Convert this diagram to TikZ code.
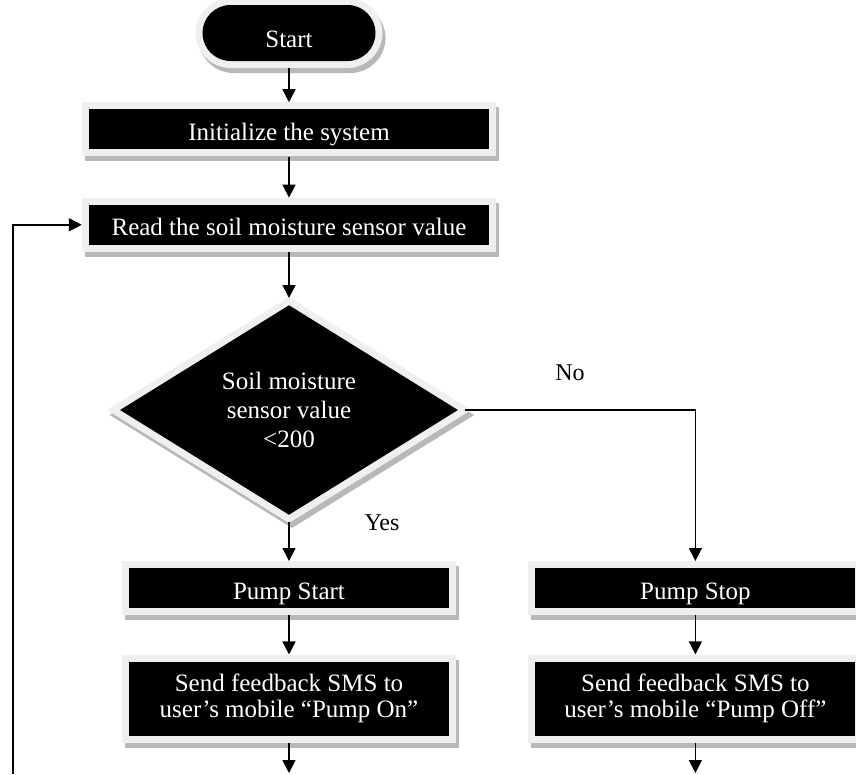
\documentclass[tikz,border=0pt]{standalone}
\usepackage{fontspec}
\setmainfont{Liberation Serif}
\usepackage{tikz}
\usetikzlibrary{arrows.meta,positioning,shapes.geometric}
\usepackage{xcolor}
\definecolor{BoxBorder}{HTML}{EFEFEF}
\definecolor{BoxShadow}{HTML}{B8B8B8}
\tikzset{
  flowbox/.style={fill=black,text=white,inner sep=0pt,align=center,font=\fontsize{25}{26}\selectfont,
    preaction={draw=BoxShadow,line width=14pt,transform canvas={xshift=3pt,yshift=-5pt}},
    preaction={draw=BoxBorder,line width=14pt}},
  startnode/.style={flowbox,rounded corners=28pt,minimum width=173pt,minimum height=56pt,text height=28pt,text depth=0pt},
  processnode/.style={flowbox,minimum width=400pt,minimum height=40pt,text height=22pt,text depth=0pt},
  pumpnode/.style={flowbox,minimum width=320pt,minimum height=40pt,text height=22pt,text depth=0pt},
  feedbacknode/.style={flowbox,minimum width=320pt,minimum height=74pt},
  decisionnode/.style={flowbox,diamond,minimum width=338pt,minimum height=204pt,font=\fontsize{25}{29}\selectfont},
  arrow/.style={-{Triangle[length=13pt,width=13pt]},line width=1.6pt,shorten <=7pt,shorten >=7pt},
  labelnode/.style={font=\fontsize{24}{26}\selectfont}
}

\begin{document}
\begin{tikzpicture}[x=1pt,y=-1pt,node distance=53pt and 86pt]
\useasboundingbox (0,0) rectangle (856,774);
\node[startnode] (start) at (289,33) {Start};
\node[processnode,below=48pt of start] (init) {Initialize the system};
\node[processnode,below=55pt of init] (read) {Read the soil moisture sensor value};
\node[decisionnode,below=60pt of read] (dec) {Soil moisture\\sensor value\\<200};
\node[pumpnode,below=of dec] (pstart) {Pump Start};
\node[pumpnode,right=of pstart] (pstop) {Pump Stop};
\node[feedbacknode,below=of pstart] (sendon) {Send feedback SMS to\\user’s mobile “Pump On”};
\node[feedbacknode,below=of pstop] (sendoff) {Send feedback SMS to\\user’s mobile “Pump Off”};
\node[labelnode] (nolabel) at (570,373) {No};
\node[labelnode] (yeslabel) at (382,523) {Yes};
\coordinate (onend) at (sendon.south |- 0,773);
\coordinate (offend) at (sendoff.south |- 0,773);
\coordinate (loopend) at (13,774);
\draw[arrow] (start) -- (init);
\draw[arrow] (init) -- (read);
\draw[arrow] (read) -- (dec);
\draw[arrow] (dec) -- (pstart);
\draw[arrow] (dec.east) -| (pstop.north);
\draw[arrow] (pstart) -- (sendon);
\draw[arrow] (pstop) -- (sendoff);
\draw[arrow,shorten >=0pt] (sendon) -- (onend);
\draw[arrow,shorten >=0pt] (sendoff) -- (offend);
\draw[arrow,shorten <=0pt] (loopend) |- (read.west);
\end{tikzpicture}
\end{document}
